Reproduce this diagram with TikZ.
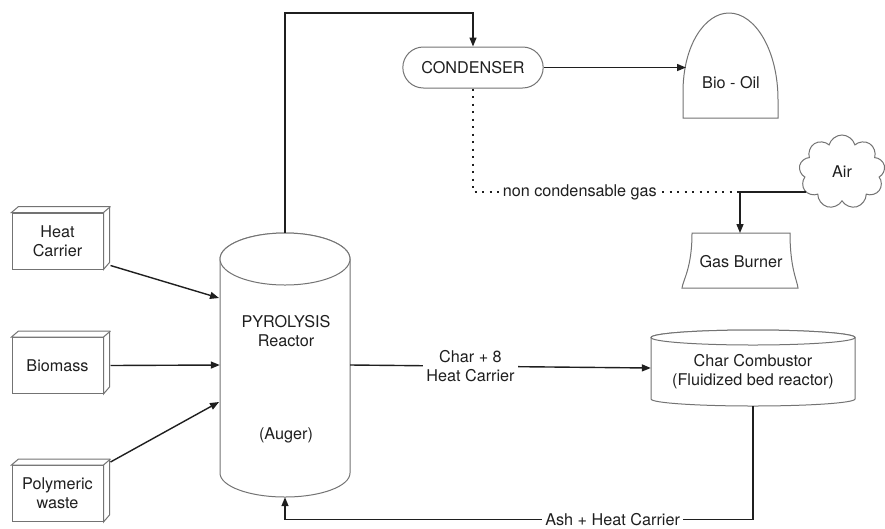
\documentclass[tikz,border=0pt]{standalone}
\usepackage{fontspec}
\setmainfont{TeX Gyre Heros}
\usetikzlibrary{arrows.meta,shapes.misc,shapes.symbols}

\tikzset{
  outline/.style={draw=black!55, line width=1pt, fill=white},
  link/.style={draw=black!88, line width=1.4pt},
  flow/.style={link, -{Triangle[length=9pt,width=7pt]}},
  gas/.style={draw=black!88, line width=2pt, dash pattern=on 2pt off 5.5pt},
  feed/.style={outline, rectangle, minimum width=91, minimum height=56, align=center},
  lbl/.style={font=\fontsize{16.2}{19}\selectfont, text=black!88, align=center},
}

\begin{document}
\begin{tikzpicture}[x=1pt, y=-1pt, every node/.style={lbl}]
\useasboundingbox (0,0) rectangle (885,528);

% feed boxes
\node[feed] (hc) at (57.5,241) {Heat\\Carrier};
\node[feed] (bm) at (57.5,365.5) {Biomass};
\node[feed] (pw) at (57.5,493.5) {Polymeric\\waste};
\foreach \b in {hc,bm,pw}{
  \filldraw[outline] (\b.north west) -- ++(7,-6) -- ++(91,0) -- ++(0,56) -- (\b.south east) -- (\b.north east) -- cycle;
  \draw[outline] (\b.north east) -- ++(7,-6);
}

% reactor
\node[minimum width=130, minimum height=264, inner sep=0] (reactor) at (285,365) {};
\filldraw[outline] (220,259) -- (220,473) arc[start angle=180, end angle=360, x radius=65pt, y radius=24pt]
  -- (350,259) arc[start angle=0, end angle=180, x radius=65pt, y radius=26pt] -- cycle;
\draw[outline] (285,259) ellipse[x radius=65pt, y radius=26pt];
\node (pyro) at (286,331) {PYROLYSIS\\Reactor};
\node (auger) at (286,435) {(Auger)};
\coordinate (in1) at (219,298);
\coordinate (in3) at (219,402);

\draw[flow] (hc.south east) ++(7,-4) -- (in1);
\draw[flow] (bm.east) ++(7,0) -- (reactor.west);
\draw[flow] (pw.north east) ++(7,-3) -- (in3);

% condenser and oil
\node[outline, rounded rectangle, minimum width=147, minimum height=41] (cond) at (473,67.5) {CONDENSER};
\draw[flow] (reactor.north) -- ++(0,-220) -| (cond.north);

\filldraw[outline] (683,118) -- (683,92) .. controls (683,45) and (705,13) .. (729,13)
  .. controls (755,13) and (778,50) .. (778,100) -- (778,118) -- cycle;
\node (oil) at (731,83) {Bio - Oil};
\coordinate (oilin) at (686,67.5);
\draw[flow] (cond.east) -- (oilin);

% gas line and burner
\filldraw[outline] (692,233) -- (790,233) .. controls (790,268) and (797,280) .. (798,288)
  -- (682,288) .. controls (683,280) and (692,268) .. (692,233) -- cycle;
\node (burner) at (741,262) {Gas Burner};
\coordinate (junc) at (740,192);
\coordinate (burnin) at (740,233);
\draw[gas] (cond.south) |- (junc) node[pos=0.7, fill=white] {non condensable gas};

\node[outline, cloud, cloud puffs=9, aspect=1.2, minimum width=86, minimum height=74] (air) at (842,172) {Air};
\draw[flow] (air.210 |- junc) -- (junc) -- (burnin);

% combustor
\node[minimum width=204, minimum height=76, inner sep=0] (comb) at (753,368) {};
\filldraw[outline] (651,337.5) -- (651,399) arc[start angle=180, end angle=360, x radius=102pt, y radius=7pt]
  -- (855,337.5) arc[start angle=0, end angle=180, x radius=102pt, y radius=7.5pt] -- cycle;
\draw[outline] (753,337.5) ellipse[x radius=102pt, y radius=7.5pt];
\node (combtxt) at (753,372) {Char Combustor\\(Fluidized bed reactor)};
\draw[flow] (reactor.east) -- (comb.west) node[pos=0.4, fill=white] {Char + 8\\Heat Carrier};
\draw[flow] (comb.south) -- ++(0,113) -| (reactor.south) node[pos=0.15, fill=white] {Ash + Heat Carrier};
\end{tikzpicture}
\end{document}
